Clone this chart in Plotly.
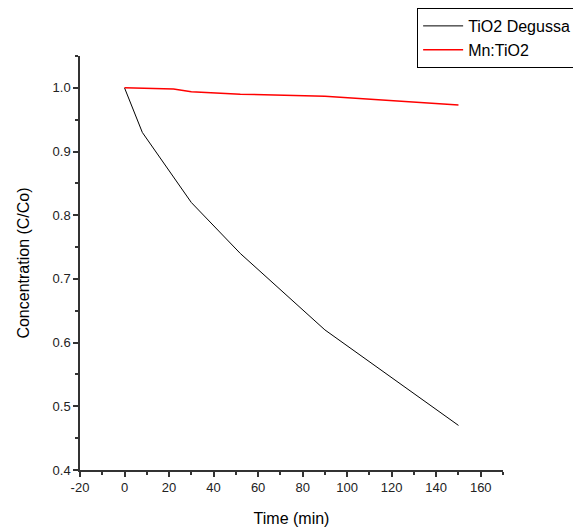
import plotly.graph_objects as go

time_degussa = [0, 8, 30, 52, 90, 150]
conc_degussa = [1.0, 0.93, 0.82, 0.74, 0.62, 0.47]
time_mn = [0, 22, 30, 52, 90, 150]
conc_mn = [1.0, 0.998, 0.994, 0.990, 0.987, 0.973]

x_tick_values = [-20, 0, 20, 40, 60, 80, 100, 120, 140, 160]
x_tick_labels = ["-20", "0", "20", "40", "60", "80", "100", "120", "140", "160"]

FONT = "Liberation Sans, Arial"

fig = go.Figure()
fig.add_trace(go.Scatter(x=time_degussa, y=conc_degussa, mode="lines", name="TiO2 Degussa",
                         line=dict(color="black", width=1)))
fig.add_trace(go.Scatter(x=time_mn, y=conc_mn, mode="lines", name="Mn:TiO2",
                         line=dict(color="red", width=1.5)))

axis_common = dict(showgrid=False, zeroline=False, showline=True, linecolor="#333333", linewidth=1.5,
                   ticks="outside", ticklen=5, tickwidth=1.5, tickcolor="#333333",
                   tickfont=dict(family=FONT, size=13, color="#222222"),
                   mirror=False, automargin=False)
fig.update_xaxes(range=[-20, 170], tickvals=x_tick_values, ticktext=x_tick_labels,
                 minor=dict(dtick=10, tick0=0, ticks="outside", ticklen=3, tickwidth=1.5, tickcolor="#333333"),
                 title=dict(text="Time (min)", font=dict(family=FONT, size=16, color="black"), standoff=18),
                 **axis_common)
fig.update_yaxes(range=[0.4, 1.05], dtick=0.1, tick0=0.4, tickformat=".1f",
                 minor=dict(dtick=0.05, ticks="outside", ticklen=3, tickwidth=1.5, tickcolor="#333333"),
                 title=dict(text="Concentration (C/Co)", font=dict(family=FONT, size=16, color="black"), standoff=19),
                 **axis_common)

fig.update_layout(
    width=573, height=522,
    margin=dict(l=72, r=78, t=48, b=60, autoexpand=False),
    plot_bgcolor="white", paper_bgcolor="white",
    font=dict(family=FONT, color="black"),
    legend=dict(x=0.797, y=1.116, xanchor="left", yanchor="top",
                bordercolor="black", borderwidth=1, bgcolor="white",
                font=dict(family=FONT, size=16, color="black"),
                tracegroupgap=0, itemwidth=40),
)

fig.write_html("out.html")
